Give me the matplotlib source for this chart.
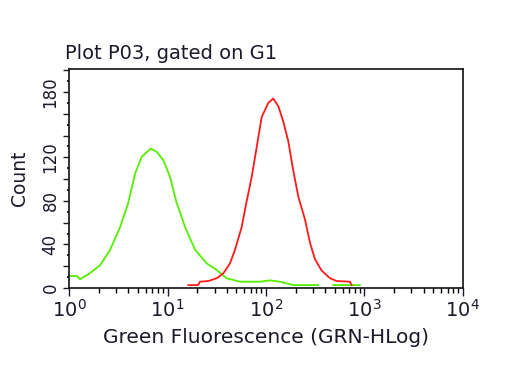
import numpy as np
import matplotlib
matplotlib.use('Agg')
import matplotlib.pyplot as plt
from matplotlib.ticker import FixedLocator, LogLocator, NullFormatter, FuncFormatter

# green histogram (log10 of fluorescence, count)
green_log = [0.0, 0.08, 0.11, 0.21, 0.315, 0.416, 0.518, 0.60, 0.67, 0.738, 0.829,
             0.89, 0.957, 1.025, 1.093, 1.178, 1.28, 1.398, 1.5, 1.6, 1.736, 1.94,
             2.04, 2.14, 2.277, 2.53, 2.6, 2.683, 2.954]
green_cnt = [11, 11, 8, 13.5, 21, 35, 56, 78, 105, 120.6, 128,
             125, 117.5, 102, 78, 56, 35, 22.6, 16.5, 8.9, 5.8, 5.8,
             7, 5.8, 2.7, 2.7, np.nan, 2.7, 2.7]

# red histogram
red_log = [1.211, 1.31, 1.33, 1.415, 1.5, 1.567, 1.634, 1.685, 1.753, 1.80, 1.855,
           1.905, 1.956, 2.024, 2.074, 2.125, 2.175, 2.226, 2.277, 2.328, 2.396,
           2.447, 2.497, 2.565, 2.65, 2.717, 2.853, 2.87]
red_cnt = [2.7, 2.7, 5.8, 6.4, 9, 13.5, 22.6, 35, 56, 78, 102,
           129, 157, 170, 174, 167, 153, 135, 108, 84, 63,
           41.6, 26.6, 16, 9, 6.4, 5.8, 2.7]

ylabels_at = [0, 40, 80, 120, 180]

fig = plt.figure(figsize=(5.12, 3.84), dpi=100)
ax = fig.add_axes([0.135, 0.25, 0.769, 0.57])

ax.plot(10**np.array(green_log), green_cnt, color='#55ee00', lw=1.3)
ax.plot(10**np.array(red_log), red_cnt, color='#ff1a1a', lw=1.3)

ax.set_xscale('log')
ax.set_xlim(1, 1e4)
ax.set_ylim(0, 201)

ax.xaxis.set_major_locator(LogLocator(base=10, numticks=10))
ax.xaxis.set_minor_locator(LogLocator(base=10, subs=np.arange(2, 10), numticks=10))
ax.xaxis.set_minor_formatter(NullFormatter())
ax.yaxis.set_major_locator(FixedLocator(np.arange(0, 201, 20)))
ax.yaxis.set_minor_locator(FixedLocator(np.arange(10, 200, 20)))
ax.yaxis.set_major_formatter(FuncFormatter(lambda v, p: '%d' % v if int(round(v)) in ylabels_at else ''))

txt = '#1a1a2a'
ax.tick_params(axis='x', which='major', length=6, width=1, labelsize=14, colors=txt, pad=2)
ax.tick_params(axis='x', which='minor', length=3.5, width=1)
ax.tick_params(axis='y', which='major', length=4, width=1, labelsize=12, colors=txt, pad=3)
ax.tick_params(axis='y', which='minor', length=1.5, width=1.2)
for lab in ax.get_yticklabels():
    lab.set_rotation(90)
    lab.set_va('center')

for s in ax.spines.values():
    s.set_linewidth(1.2)
    s.set_color('#111111')

ax.set_xlabel('Green Fluorescence (GRN-HLog)', fontsize=14.5, color=txt, labelpad=5)
ax.set_ylabel('Count', fontsize=13.5, color=txt, labelpad=9)
fig.text(0.127, 0.846, 'Plot P03, gated on G1', fontsize=14, color=txt)

plt.savefig('out.png', dpi=100)
